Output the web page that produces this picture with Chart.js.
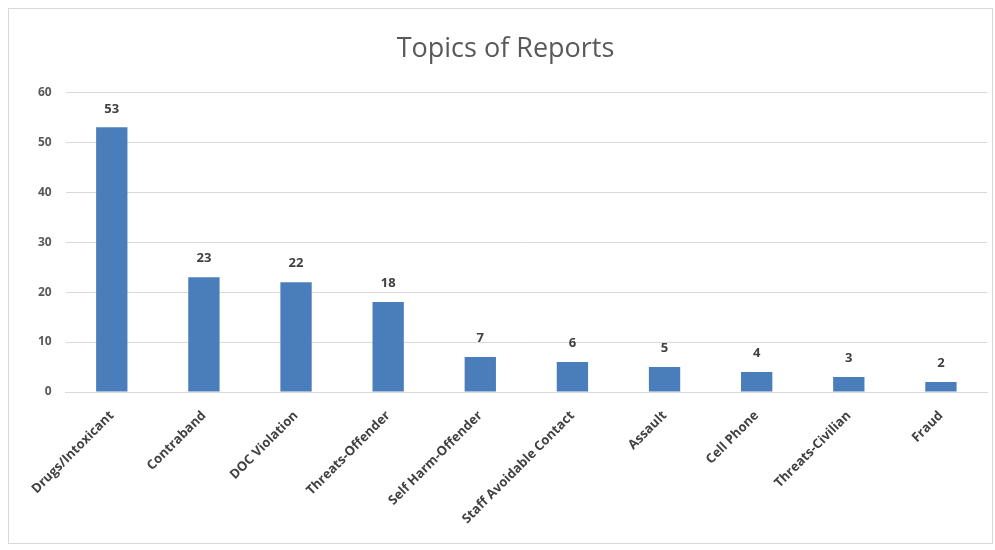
<!DOCTYPE html>
<html lang="en">
<head>
    <meta charset="UTF-8">
    <title>Topics of Reports</title>
    <script src="https://cdn.jsdelivr.net/npm/chart.js"></script>
    <style>
        body { margin: 0; background: #fff; }
        .frame {
            position: absolute; left: 8px; top: 8px;
            width: 985px; height: 536px;
            border: 1px solid #d9d9d9; box-sizing: border-box;
        }
        .wrap { position: absolute; left: 0; top: 0; width: 995px; height: 550px; }
    </style>
</head>
<body>
    <div class="frame"></div>
    <div class="wrap"><canvas id="reports"></canvas></div>
    <script>
        // report counts per topic
        const topics = ['Drugs/Intoxicant', 'Contraband', 'DOC Violation', 'Threats-Offender',
            'Self Harm-Offender', 'Staff Avoidable Contact', 'Assault', 'Cell Phone',
            'Threats-Civilian', 'Fraud'];
        const counts = [53, 23, 22, 18, 7, 6, 5, 4, 3, 2];
        const yTicks = [0, 10, 20, 30, 40, 50, 60];

        // draws the count above each bar
        const valueLabels = {
            id: 'valueLabels',
            afterDatasetsDraw(chart) {
                const ctx = chart.ctx;
                const meta = chart.getDatasetMeta(0);
                ctx.save();
                ctx.font = 'bold 13px "Open Sans", sans-serif';
                ctx.fillStyle = '#404040';
                ctx.textAlign = 'center';
                ctx.textBaseline = 'bottom';
                meta.data.forEach((bar, i) => {
                    ctx.fillText(counts[i], bar.x, bar.y - 12);
                });
                ctx.restore();
            }
        };

        new Chart(document.getElementById('reports'), {
            type: 'bar',
            data: {
                labels: topics,
                datasets: [{
                    data: counts,
                    backgroundColor: '#4a7ebb',
                    categoryPercentage: 1,
                    barPercentage: 0.34
                }]
            },
            options: {
                responsive: true,
                maintainAspectRatio: false,
                animation: false,
                layout: { padding: { left: 24, right: 8, top: 12, bottom: 0 } },
                plugins: {
                    legend: { display: false },
                    tooltip: { enabled: false },
                    title: {
                        display: true,
                        text: 'Topics of Reports',
                        color: '#595959',
                        font: { family: '"Open Sans", sans-serif', size: 27, weight: 'normal' },
                        padding: { top: 21, bottom: 27 }
                    }
                },
                scales: {
                    y: {
                        min: 0,
                        max: 60,
                        afterBuildTicks(axis) { axis.ticks = yTicks.map(v => ({ value: v })); },
                        border: { display: false },
                        grid: { color: '#d9d9d9', drawTicks: false },
                        ticks: {
                            color: '#595959',
                            padding: 14,
                            font: { family: '"Open Sans", sans-serif', size: 12, weight: 'bold' }
                        }
                    },
                    x: {
                        afterFit(axis) { axis.height = 158; },
                        border: { color: '#d9d9d9' },
                        grid: { display: false },
                        ticks: {
                            color: '#404040',
                            minRotation: 45,
                            maxRotation: 45,
                            padding: 8,
                            font: { family: '"Open Sans", sans-serif', size: 13, weight: 'bold' }
                        }
                    }
                }
            },
            plugins: [valueLabels]
        });
    </script>
</body>
</html>
